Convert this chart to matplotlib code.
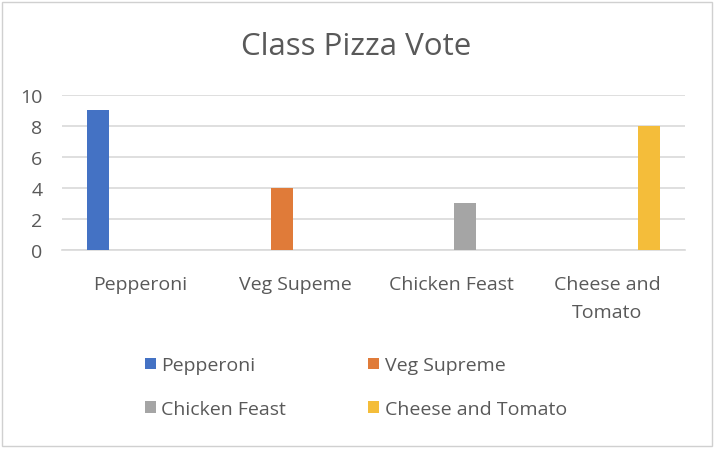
import matplotlib
matplotlib.use("Agg")
import matplotlib.pyplot as plt
import numpy as np
from matplotlib.patches import Rectangle

categories = ["Pepperoni", "Veg Supeme", "Chicken Feast", "Cheese and\nTomato"]
series_names = ["Pepperoni", "Veg Supreme", "Chicken Feast", "Cheese and Tomato"]
series_values = [
    [9, 0, 0, 0],
    [0, 4, 0, 0],
    [0, 0, 3, 0],
    [0, 0, 0, 8],
]
colors = ["#4472C4", "#E07B39", "#A5A5A5", "#F4BD3A"]
yticks = [0, 2, 4, 6, 8, 10]

plt.rcParams['font.family'] = ['Open Sans', 'DejaVu Sans']
txt = "#595959"
grid = "#D9D9D9"

fig = plt.figure(figsize=(7.16, 4.52), dpi=100)
fig.patch.set_facecolor("white")
fig.patches.append(Rectangle((0.003, 0.012), 0.992, 0.982, transform=fig.transFigure,
                             fill=False, edgecolor="#D0D0D0", linewidth=1.0))

ax = fig.add_axes([0.0866, 0.4447, 0.87, 0.343])
x = np.arange(len(categories))
slot = 0.178
bw = 0.141
bars = []
for i, (name, vals) in enumerate(zip(series_names, series_values)):
    b = ax.bar(x + (i - 1.5) * slot, vals, width=bw, color=colors[i], label=name, zorder=3)
    bars.append(b)

ax.set_xlim(-0.5, len(categories) - 0.5)
ax.set_ylim(0, 10)
ax.set_yticks(yticks)
ax.yaxis.grid(True, color=grid, linewidth=1.2, zorder=0)
for s in ["left", "right", "top"]:
    ax.spines[s].set_visible(False)
ax.spines["bottom"].set_color(grid)
ax.spines["bottom"].set_linewidth(1.2)
ax.set_xticks(x)
ax.set_xticklabels(categories, fontsize=14, color=txt, linespacing=1.75)
ax.tick_params(axis="x", length=0, pad=18)
ax.tick_params(axis="y", length=0, pad=14, labelsize=14, labelcolor=txt)

fig.suptitle("Class Pizza Vote", x=0.497, y=0.93, fontsize=22.5, color=txt)

order = [0, 2, 1, 3]
handles = [bars[i] for i in order]
labels = [series_names[i] for i in order]
leg = fig.legend(handles, labels, loc="upper left", bbox_to_anchor=(0.178, 0.248), ncol=2,
                 frameon=False, fontsize=14, labelcolor=txt, handlelength=0.55, handleheight=0.55,
                 handletextpad=0.3, columnspacing=4.2, labelspacing=1.3)

fig.savefig("out.png", dpi=100, facecolor="white")
